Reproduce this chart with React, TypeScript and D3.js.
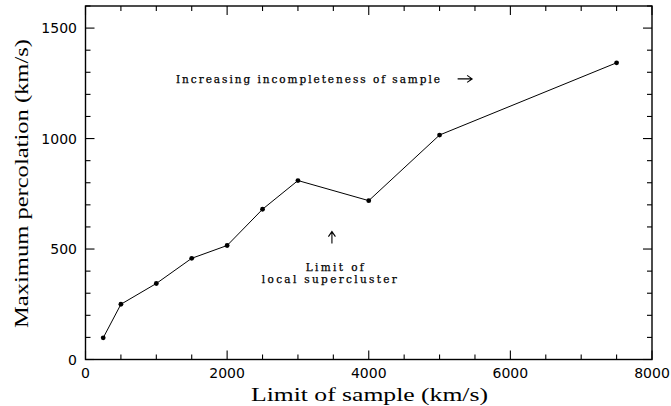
import React, { useEffect, useRef } from "react";
import * as d3 from "d3";

const limitOfSample = [250, 500, 1000, 1500, 2000, 2500, 3000, 4000, 5000, 7500];
const maxPercolation = [98, 250, 344, 458, 516, 680, 810, 719, 1016, 1343];

const xTickLabels = [0, 2000, 4000, 6000, 8000];
const yTickLabels = [0, 500, 1000, 1500];

const xTitle = "Limit of sample (km/s)";
const yTitle = "Maximum percolation (km/s)";
const noteTop = "Increasing incompleteness of sample";
const noteLimit1 = "Limit of";
const noteLimit2 = "local supercluster";

const W = 671;
const H = 406;

export default function App() {
  const ref = useRef<SVGSVGElement | null>(null);

  useEffect(() => {
    const svg = d3.select(ref.current);
    svg.selectAll("*").remove();

    const x = d3.scaleLinear().domain([0, 8000]).range([85.5, 652]);
    const y = d3.scaleLinear().domain([0, 1600]).range([359.5, 6]);

    const g = svg.append("g");

    // frame
    g.append("rect")
      .attr("x", x(0))
      .attr("y", y(1600))
      .attr("width", x(8000) - x(0))
      .attr("height", y(0) - y(1600))
      .attr("fill", "none")
      .attr("stroke", "#000")
      .attr("stroke-width", 1.4);

    // x ticks (mirror on top)
    const xMinor = d3.range(0, 8001, 500);
    xMinor.forEach((v) => {
      const major = v % 2000 === 0;
      const len = major ? 9 : 5;
      g.append("line")
        .attr("x1", x(v)).attr("x2", x(v))
        .attr("y1", y(0)).attr("y2", y(0) - len)
        .attr("stroke", "#000").attr("stroke-width", 1.1);
      g.append("line")
        .attr("x1", x(v)).attr("x2", x(v))
        .attr("y1", y(1600)).attr("y2", y(1600) + len)
        .attr("stroke", "#000").attr("stroke-width", 1.1);
    });
    const yMinor = d3.range(0, 1601, 100);
    yMinor.forEach((v) => {
      const major = v % 500 === 0;
      const len = major ? 9 : 5;
      g.append("line")
        .attr("y1", y(v)).attr("y2", y(v))
        .attr("x1", x(0)).attr("x2", x(0) + len)
        .attr("stroke", "#000").attr("stroke-width", 1.1);
      g.append("line")
        .attr("y1", y(v)).attr("y2", y(v))
        .attr("x1", x(8000)).attr("x2", x(8000) - len)
        .attr("stroke", "#000").attr("stroke-width", 1.1);
    });

    // tick labels
    xTickLabels.forEach((v) => {
      g.append("text")
        .attr("x", x(v))
        .attr("y", 378)
        .attr("text-anchor", "middle")
        .attr("font-family", "DejaVu Sans")
        .attr("font-size", 14)
        .attr("fill", "#000")
        .text(String(v));
    });
    yTickLabels.forEach((v) => {
      g.append("text")
        .attr("x", 77)
        .attr("y", y(v) + 5)
        .attr("text-anchor", "end")
        .attr("font-family", "DejaVu Sans")
        .attr("font-size", 14)
        .attr("fill", "#000")
        .text(String(v));
    });

    // axis titles
    g.append("text")
      .attr("x", 251)
      .attr("y", 400.5)
      .attr("font-family", "Liberation Serif")
      .attr("font-size", 18)
      .attr("textLength", 237)
      .attr("lengthAdjust", "spacingAndGlyphs")
      .attr("fill", "#000")
      .text(xTitle);
    g.append("text")
      .attr("transform", `translate(27.5,328) rotate(-90)`)
      .attr("font-family", "Liberation Serif")
      .attr("font-size", 18)
      .attr("textLength", 289)
      .attr("lengthAdjust", "spacingAndGlyphs")
      .attr("fill", "#000")
      .text(yTitle);

    // line + markers
    const pts = limitOfSample.map((v, i) => [v, maxPercolation[i]] as [number, number]);
    const line = d3.line<[number, number]>().x((d) => x(d[0])).y((d) => y(d[1]));
    g.append("path")
      .attr("d", line(pts) || "")
      .attr("fill", "none")
      .attr("stroke", "#000")
      .attr("stroke-width", 1);
    g.selectAll("circle.pt")
      .data(pts)
      .enter()
      .append("circle")
      .attr("cx", (d) => x(d[0]))
      .attr("cy", (d) => y(d[1]))
      .attr("r", 2.4)
      .attr("fill", "#000");

    // annotations
    const annoFont = "DejaVu Serif";
    const annoSize = 10.5;
    g.append("text")
      .attr("x", x(1278))
      .attr("y", y(1252))
      .attr("font-family", annoFont)
      .attr("font-size", annoSize)
      .attr("stroke", "#000")
      .attr("stroke-width", 0.25)
      .attr("textLength", 264)
      .attr("lengthAdjust", "spacing")
      .attr("fill", "#000")
      .text(noteTop);

    // right arrow
    const ax0 = x(5255), ax1 = x(5460), ay = y(1270);
    g.append("path")
      .attr("d", `M${ax0},${ay}L${ax1},${ay}M${ax1 - 5},${ay - 3.5}L${ax1},${ay}L${ax1 - 5},${ay + 3.5}`)
      .attr("fill", "none")
      .attr("stroke", "#000")
      .attr("stroke-width", 1.1);

    // up arrow
    const ux = x(3480), uy0 = y(525), uy1 = y(579);
    g.append("path")
      .attr("d", `M${ux},${uy0}L${ux},${uy1}M${ux - 3.5},${uy1 + 5}L${ux},${uy1}L${ux + 3.5},${uy1 + 5}`)
      .attr("fill", "none")
      .attr("stroke", "#000")
      .attr("stroke-width", 1.1);

    g.append("text")
      .attr("x", x(3110))
      .attr("y", y(399))
      .attr("font-family", annoFont)
      .attr("font-size", annoSize)
      .attr("stroke", "#000")
      .attr("stroke-width", 0.25)
      .attr("textLength", 58)
      .attr("lengthAdjust", "spacing")
      .attr("fill", "#000")
      .text(noteLimit1);
    g.append("text")
      .attr("x", x(2490))
      .attr("y", y(348))
      .attr("font-family", annoFont)
      .attr("font-size", annoSize)
      .attr("stroke", "#000")
      .attr("stroke-width", 0.25)
      .attr("textLength", 135)
      .attr("lengthAdjust", "spacing")
      .attr("fill", "#000")
      .text(noteLimit2);
  }, []);

  return (
    <svg
      ref={ref}
      width={W}
      height={H}
      style={{ position: "absolute", left: 0, top: 0, background: "#fff", display: "block" }}
    />
  );
}
